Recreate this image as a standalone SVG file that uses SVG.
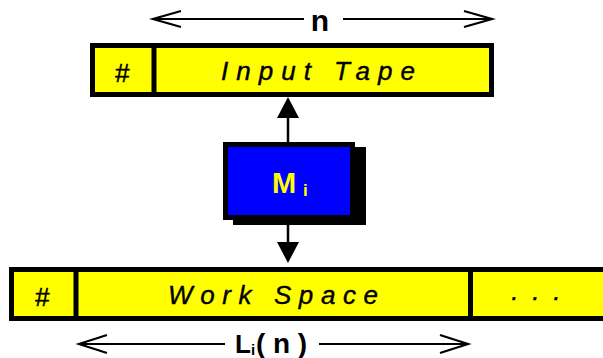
<svg xmlns="http://www.w3.org/2000/svg" width="603" height="358" viewBox="0 0 603 358">
<style>
.tape{fill:#FFFF00;stroke:#000;stroke-width:5}
.div{stroke:#000;stroke-width:5}
.lbl{font-family:"Liberation Sans",Arial,sans-serif;font-style:italic;font-size:26px;fill:#000;stroke:#000;stroke-width:0.4}
.dim{stroke:#000;stroke-width:2.2;fill:none}
.bold{font-family:"Liberation Sans",Arial,sans-serif;font-weight:bold;fill:#000}
.conn{stroke:#000;stroke-width:2.5;fill:none}
</style>
<rect width="603" height="358" fill="#fff"/>
<g id="input-tape">
<rect class="tape" x="92.5" y="45.5" width="399" height="49"/>
<line class="div" x1="154" y1="45" x2="154" y2="95"/>
<text class="lbl" x="122" y="82" text-anchor="middle">#</text>
<text class="lbl" x="221" y="80" textLength="194">Input Tape</text>
</g>
<g id="n-dimension">
<line class="dim" x1="153" y1="19" x2="304" y2="19"/>
<line class="dim" x1="343" y1="19" x2="492" y2="19"/>
<polyline class="dim" points="181,11 153,19 181,27"/>
<polyline class="dim" points="464,11 492,19 464,27"/>
<text class="bold" x="320" y="31" font-size="30" text-anchor="middle">n</text>
</g>
<g id="machine">
<rect x="233" y="147" width="133" height="78" fill="#000"/>
<rect x="225.5" y="144.5" width="127" height="73" fill="#0000FF" stroke="#000" stroke-width="5"/>
<text class="bold" x="272" y="193" font-size="29" style="fill:#FFFF00">M</text>
<text class="bold" x="303" y="196" font-size="17" style="fill:#FFFF00">i</text>
</g>
<g id="connectors">
<line class="conn" x1="288" y1="142" x2="288" y2="116"/>
<polygon points="277,118 299,118 288,97" fill="#000"/>
<line class="conn" x1="288" y1="220" x2="288" y2="244"/>
<polygon points="277,242 299,242 288,263" fill="#000"/>
</g>
<g id="work-tape">
<rect class="tape" x="11.5" y="269.5" width="600" height="49"/>
<line class="div" x1="76" y1="269" x2="76" y2="319"/>
<line class="div" x1="470.5" y1="269" x2="470.5" y2="319"/>
<text class="lbl" x="42" y="306" text-anchor="middle">#</text>
<text class="lbl" x="168" y="304" textLength="210">Work Space</text>
<text class="lbl" x="511.2 532.2 553.2" y="299.5" font-style="normal" font-size="20">...</text>
</g>
<g id="l-dimension">
<line class="dim" x1="79" y1="344" x2="225" y2="344"/>
<line class="dim" x1="319" y1="344" x2="468" y2="344"/>
<polyline class="dim" points="107,335 79,344 107,353"/>
<polyline class="dim" points="440,335 468,344 440,353"/>
<text class="bold" x="235" y="353" font-size="26">L</text>
<text class="bold" x="251" y="355" font-size="15">i</text>
<text class="bold" x="256" y="353" font-size="28" textLength="51">(n)</text>
</g>
</svg>
